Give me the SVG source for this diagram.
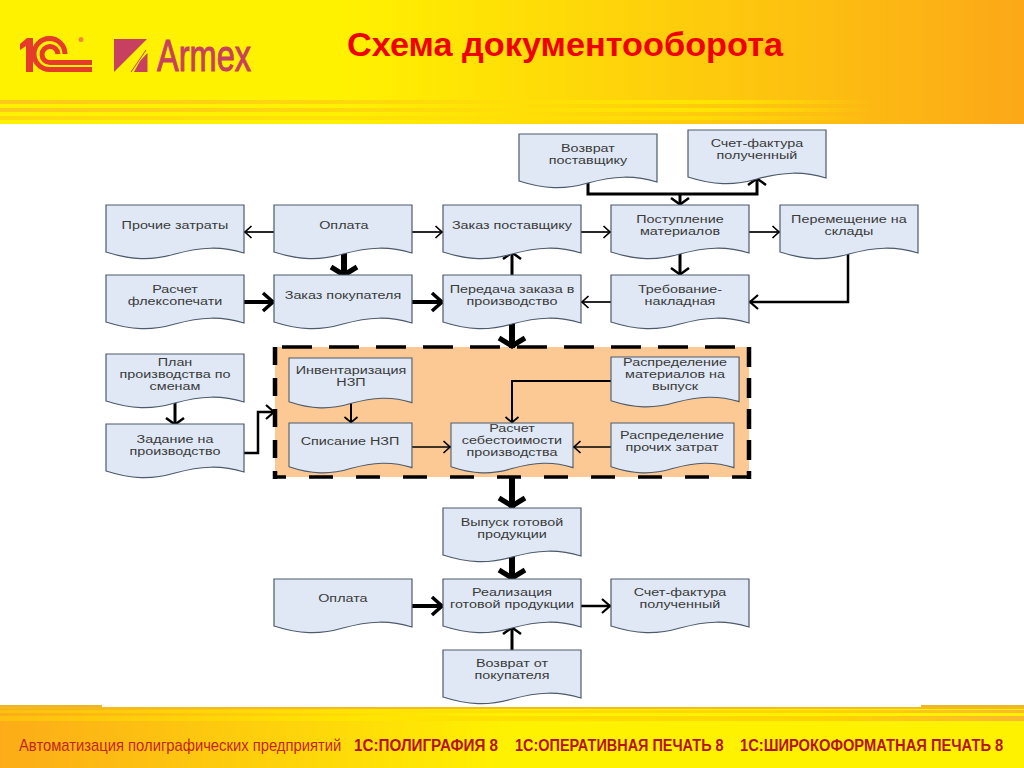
<svg xmlns="http://www.w3.org/2000/svg" width="1024" height="768" viewBox="0 0 1024 768">
<style>
.doc{fill:#dfe8f4;stroke:#4d5a6b;stroke-width:1.2;vector-effect:non-scaling-stroke}
.t{font-family:"Liberation Sans",Arial,sans-serif;font-size:11.5px;fill:#3a3a3a;text-anchor:middle;transform-box:fill-box;transform-origin:center;transform:scaleX(1.25)}
.c{fill:none;stroke:#000;stroke-linejoin:miter}
.h1{stroke-width:1.7;marker-end:url(#h1)}
.v1{stroke-width:2;marker-end:url(#v1)}
.h2{stroke-width:2.5;marker-end:url(#h2)}
.v2{stroke-width:3;marker-end:url(#v2)}
.h4{stroke-width:4;marker-end:url(#h4)}
.v4{stroke-width:6;marker-end:url(#v4)}
.dh{stroke:#000;stroke-width:3.5;fill:none}
.dv{stroke:#000;stroke-width:4.5;fill:none}
.foot{font-family:"Liberation Sans",Arial,sans-serif;font-size:17px;fill:#c4261c}
.footb{font-family:"Liberation Sans",Arial,sans-serif;font-size:17px;font-weight:700;fill:#b5121b}
.logo1{fill:none;stroke:#e63a2a;stroke-width:5}
</style>
<defs>
<path id="doc" d="M0,0H138V48C115,41 95,42 69,49C45,56 25,55 0,47Z"/>
<linearGradient id="hg" x1="0" x2="1" y1="0" y2="0"><stop offset="0" stop-color="#fff200"/><stop offset=".33" stop-color="#fff200"/><stop offset="1" stop-color="#fca818"/></linearGradient>
<linearGradient id="sg" x1="0" x2="1" y1="0" y2="0"><stop offset="0" stop-color="#ffc81a"/><stop offset=".68" stop-color="#ffe600"/><stop offset=".85" stop-color="#ffe600" stop-opacity="0"/></linearGradient>
<linearGradient id="fg" x1="0" x2="1" y1="0" y2="0"><stop offset="0" stop-color="#fcac18"/><stop offset=".5" stop-color="#fff200"/><stop offset="1" stop-color="#fff200"/></linearGradient>
<linearGradient id="fs" x1="0" x2="1" y1="0" y2="0"><stop offset="0" stop-color="#fcc010"/><stop offset=".35" stop-color="#ffe600"/><stop offset=".8" stop-color="#ffd400"/><stop offset="1" stop-color="#fbb830"/></linearGradient>
<marker id="h1" markerUnits="userSpaceOnUse" markerWidth="16" markerHeight="16" refX="12" refY="8" orient="auto"><path d="M4.500,2L11,8L4.500,14" fill="none" stroke="#000" stroke-width="1.7"/></marker>
<marker id="v1" markerUnits="userSpaceOnUse" markerWidth="16" markerHeight="18" refX="9" refY="9" orient="auto"><path d="M3,2.500L8.500,9L3,15.500" fill="none" stroke="#000" stroke-width="1.7"/></marker>
<marker id="h2" markerUnits="userSpaceOnUse" markerWidth="18" markerHeight="18" refX="14" refY="9" orient="auto"><path d="M5,2L13,9L5,16" fill="none" stroke="#000" stroke-width="2.2"/></marker>
<marker id="v2" markerUnits="userSpaceOnUse" markerWidth="18" markerHeight="22" refX="11" refY="11" orient="auto"><path d="M4,2L10.500,11L4,20" fill="none" stroke="#000" stroke-width="2.500"/></marker>
<marker id="h4" markerUnits="userSpaceOnUse" markerWidth="24" markerHeight="24" refX="19" refY="12" orient="auto"><path d="M8,3L18,12L8,21" fill="none" stroke="#000" stroke-width="3.500"/></marker>
<marker id="v4" markerUnits="userSpaceOnUse" markerWidth="20" markerHeight="32" refX="14" refY="16" orient="auto"><path d="M4,3L12,16L4,29" fill="none" stroke="#000" stroke-width="5"/></marker>
</defs>

<g id="background">
<rect width="1024" height="768" fill="#fff"/>
<rect width="1024" height="124" fill="url(#hg)"/>
<rect y="100" width="1024" height="4" fill="url(#sg)"/>
<rect y="108" width="1024" height="4" fill="url(#sg)"/>
<rect y="116" width="1024" height="4" fill="url(#sg)" opacity=".6"/>
<rect y="707" width="1024" height="61" fill="url(#fg)"/>
<rect y="705" width="102" height="3" fill="#f0b428"/>
<rect x="921" y="705" width="103" height="3" fill="#f0b428"/>
<rect y="707" width="1024" height="2" fill="#f2bc20"/>
<rect y="710" width="1024" height="3" fill="url(#fs)"/>
<rect y="716" width="1024" height="5" fill="url(#fs)"/>
</g>

<g id="logo">
<path d="M20,44L27,38H33V72H26V46L20,50Z" fill="#e63a2a"/>
<path class="logo1" d="M92,69.500H50A15.500,15.500 0 1 1 65,54"/>
<path class="logo1" d="M92,62.500H50A8,8 0 1 1 58,54"/>
<circle cx="81" cy="39.500" r="2.500" fill="#f08a3a"/>
<path d="M114,39H147L114,72Z" fill="#c8405f"/>
<path d="M134,72L140,61L147.500,53V72Z" fill="#c8405f"/>
<path d="M131,72L146,50" stroke="#c8405f" stroke-width="1" fill="none"/>
<text x="157" y="71" font-family="Liberation Sans,Arial,sans-serif" font-size="44" fill="#c8405f" stroke="#c8405f" stroke-width="1" textLength="94" lengthAdjust="spacingAndGlyphs">Armex</text>
</g>

<text id="title" x="347" y="56" font-family="Liberation Sans,Arial,sans-serif" font-size="33" font-weight="700" fill="#f00000" textLength="436" lengthAdjust="spacingAndGlyphs">Схема документооборота</text>

<g id="cost-area">
<rect x="275" y="347" width="474" height="130" fill="#fcc994"/>
<path class="dh" d="M274,347H751" stroke-dasharray="30 17" stroke-dashoffset="39"/>
<path class="dh" d="M274,477H751" stroke-dasharray="24 23" stroke-dashoffset="12"/>
<path class="dv" d="M275,347V479" stroke-dasharray="18 13"/>
<path class="dv" d="M749,347V479" stroke-dasharray="20 11"/>
</g>

<g id="connectors">
<path class="c v2" d="M588,182V194H757V178"/>
<path class="c v2" d="M680,194V205"/>
<path class="c h1" d="M274,232H244"/>
<path class="c h1" d="M412,232H443"/>
<path class="c h1" d="M581,232H611"/>
<path class="c h1" d="M749,232H780"/>
<path class="c v2" d="M680,254V275"/>
<path class="c h2" d="M848,252V302H749"/>
<path class="c h1" d="M611,302H581"/>
<path class="c v2" d="M512,275V252"/>
<path class="c v4" d="M344,252V277"/>
<path class="c h4" d="M244,302H274"/>
<path class="c h4" d="M412,302H443"/>
<path class="c v4" d="M512,322V348"/>
<path class="c v2" d="M175,402V425"/>
<path class="c h2" d="M244,453H258V412H275"/>
<path class="c v1" d="M351,401V423"/>
<path class="c h1" d="M412,447H451"/>
<path class="c v1" d="M611,381H512V423"/>
<path class="c h1" d="M611,447H573"/>
<path class="c v4" d="M512,477V508"/>
<path class="c v4" d="M512,556V580"/>
<path class="c h4" d="M412,606H443"/>
<path class="c h2" d="M581,606H611"/>
<path class="c v2" d="M512,650V627"/>
</g>

<g id="n-vozvrat-post"><use href="#doc" class="doc" transform="translate(519,134)"/><text class="t"><tspan x="588" y="152">Возврат</tspan><tspan x="588" y="164">поставщику</tspan></text></g>
<g id="n-sf-1"><use href="#doc" class="doc" transform="translate(688,130)"/><text class="t"><tspan x="757" y="147">Счет-фактура</tspan><tspan x="757" y="159">полученный</tspan></text></g>
<g id="n-prochie"><use href="#doc" class="doc" transform="translate(106,205)"/><text class="t" x="175" y="229">Прочие затраты</text></g>
<g id="n-oplata-1"><use href="#doc" class="doc" transform="translate(274,205)"/><text class="t" x="344" y="229">Оплата</text></g>
<g id="n-zakaz-post"><use href="#doc" class="doc" transform="translate(443,205)"/><text class="t" x="512" y="229">Заказ поставщику</text></g>
<g id="n-postuplenie"><use href="#doc" class="doc" transform="translate(611,205)"/><text class="t"><tspan x="680" y="223">Поступление</tspan><tspan x="680" y="235">материалов</tspan></text></g>
<g id="n-peremeshenie"><use href="#doc" class="doc" transform="translate(780,205)"/><text class="t"><tspan x="849" y="223">Перемещение на</tspan><tspan x="849" y="235">склады</tspan></text></g>
<g id="n-flekso"><use href="#doc" class="doc" transform="translate(106,275)"/><text class="t"><tspan x="175" y="293">Расчет</tspan><tspan x="175" y="305">флексопечати</tspan></text></g>
<g id="n-zakaz-pok"><use href="#doc" class="doc" transform="translate(274,275)"/><text class="t" x="343" y="299">Заказ покупателя</text></g>
<g id="n-peredacha"><use href="#doc" class="doc" transform="translate(443,275)"/><text class="t"><tspan x="512" y="293">Передача заказа в</tspan><tspan x="512" y="305">производство</tspan></text></g>
<g id="n-trebovanie"><use href="#doc" class="doc" transform="translate(611,275)"/><text class="t"><tspan x="680" y="293">Требование-</tspan><tspan x="680" y="305">накладная</tspan></text></g>
<g id="n-plan"><use href="#doc" class="doc" transform="translate(106,354)"/><text class="t"><tspan x="175" y="366">План</tspan><tspan x="175" y="378">производства по</tspan><tspan x="175" y="390">сменам</tspan></text></g>
<g id="n-zadanie"><use href="#doc" class="doc" transform="translate(106,424)"/><text class="t"><tspan x="175" y="443">Задание на</tspan><tspan x="175" y="455">производство</tspan></text></g>
<g id="n-invent"><use href="#doc" class="doc" transform="translate(289,358) scale(.891,.93)"/><text class="t"><tspan x="351" y="374">Инвентаризация</tspan><tspan x="351" y="386">НЗП</tspan></text></g>
<g id="n-spisanie"><use href="#doc" class="doc" transform="translate(289,423) scale(.891,.93)"/><text class="t" x="350" y="445">Списание НЗП</text></g>
<g id="n-raschet"><use href="#doc" class="doc" transform="translate(451,423) scale(.884,.93)"/><text class="t"><tspan x="512" y="432">Расчет</tspan><tspan x="512" y="444">себестоимости</tspan><tspan x="512" y="456">производства</tspan></text></g>
<g id="n-raspr-mat"><use href="#doc" class="doc" transform="translate(611,357) scale(.928,.93)"/><text class="t"><tspan x="675" y="366">Распределение</tspan><tspan x="675" y="378">материалов на</tspan><tspan x="675" y="390">выпуск</tspan></text></g>
<g id="n-raspr-pr"><use href="#doc" class="doc" transform="translate(611,423) scale(.891,.93)"/><text class="t"><tspan x="672" y="439">Распределение</tspan><tspan x="672" y="451">прочих затрат</tspan></text></g>
<g id="n-vypusk"><use href="#doc" class="doc" transform="translate(443,508)"/><text class="t"><tspan x="512" y="526">Выпуск готовой</tspan><tspan x="512" y="538">продукции</tspan></text></g>
<g id="n-oplata-2"><use href="#doc" class="doc" transform="translate(274,579)"/><text class="t" x="343" y="602">Оплата</text></g>
<g id="n-realiz"><use href="#doc" class="doc" transform="translate(443,579)"/><text class="t"><tspan x="512" y="596">Реализация</tspan><tspan x="512" y="608">готовой продукции</tspan></text></g>
<g id="n-sf-2"><use href="#doc" class="doc" transform="translate(611,579)"/><text class="t"><tspan x="680" y="596">Счет-фактура</tspan><tspan x="680" y="608">полученный</tspan></text></g>
<g id="n-vozvrat-pok"><use href="#doc" class="doc" transform="translate(443,650)"/><text class="t"><tspan x="512" y="667">Возврат от</tspan><tspan x="512" y="679">покупателя</tspan></text></g>

<g id="footer">
<text class="foot" transform="translate(19,751) scale(.87,1)">Автоматизация полиграфических предприятий</text>
<text class="footb" transform="translate(354,751) scale(.895,1)">1С:ПОЛИГРАФИЯ 8</text>
<text class="footb" transform="translate(515,751) scale(.85,1)">1С:ОПЕРАТИВНАЯ ПЕЧАТЬ 8</text>
<text class="footb" transform="translate(740,751) scale(.865,1)">1С:ШИРОКОФОРМАТНАЯ ПЕЧАТЬ 8</text>
</g>
</svg>
